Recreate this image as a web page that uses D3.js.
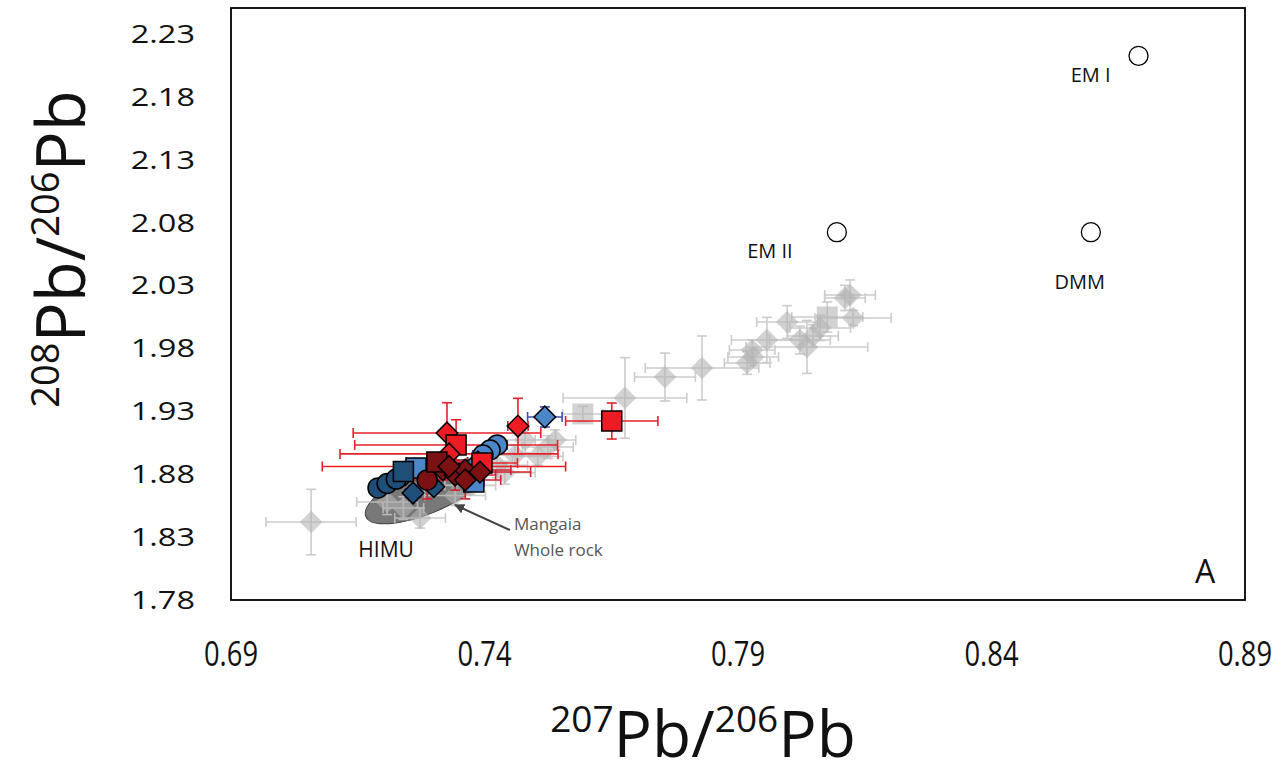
<!DOCTYPE html>
<html>
<head>
<meta charset="utf-8">
<script src="https://cdn.jsdelivr.net/npm/d3@7"></script>
<style>
  body { margin: 0; background: #fff; }
  text { font-family: "Open Sans", sans-serif; }
</style>
</head>
<body>
<div id="chart"></div>
<script>
// axis ticks
const xTicks = [0.69, 0.74, 0.79, 0.84, 0.89];
const yTicks = [1.78, 1.83, 1.88, 1.93, 1.98, 2.03, 2.08, 2.13, 2.18, 2.23];

// literature data (grey)
const greyData = [
    { x: 0.8121, y: 2.0221, xe: 0.0050, ye: 0.0120, s: "d" },
    { x: 0.8111, y: 2.0198, xe: 0.0040, ye: 0.0100, s: "d" },
    { x: 0.8127, y: 2.0039, xe: 0.0075, ye: 0.0060, s: "d" },
    { x: 0.8076, y: 2.0047, xe: 0.0070, ye: 0.0120, s: "s" },
    { x: 0.8062, y: 1.9960, xe: 0.0060, ye: 0.0100, s: "d" },
    { x: 0.8048, y: 1.9896, xe: 0.0050, ye: 0.0090, s: "d" },
    { x: 0.8036, y: 1.9809, xe: 0.0120, ye: 0.0210, s: "d" },
    { x: 0.8022, y: 1.9864, xe: 0.0060, ye: 0.0110, s: "d" },
    { x: 0.7997, y: 2.0007, xe: 0.0060, ye: 0.0130, s: "d" },
    { x: 0.7957, y: 1.9864, xe: 0.0070, ye: 0.0180, s: "d" },
    { x: 0.7928, y: 1.9785, xe: 0.0045, ye: 0.0080, s: "d" },
    { x: 0.7930, y: 1.9729, xe: 0.0050, ye: 0.0070, s: "d" },
    { x: 0.7918, y: 1.9682, xe: 0.0045, ye: 0.0090, s: "d" },
    { x: 0.7829, y: 1.9642, xe: 0.0112, ye: 0.0254, s: "d" },
    { x: 0.7756, y: 1.9570, xe: 0.0060, ye: 0.0190, s: "d" },
    { x: 0.7677, y: 1.9404, xe: 0.0122, ye: 0.0320, s: "d" },
    { x: 0.7594, y: 1.9277, xe: 0.0040, ye: 0.0060, s: "s" },
    { x: 0.7480, y: 1.9070, xe: 0.0060, ye: 0.0100, s: "d" },
    { x: 0.7525, y: 1.9015, xe: 0.0050, ye: 0.0090, s: "d" },
    { x: 0.7540, y: 1.9070, xe: 0.0040, ye: 0.0080, s: "d" },
    { x: 0.7460, y: 1.8950, xe: 0.0070, ye: 0.0080, s: "d" },
    { x: 0.7425, y: 1.8870, xe: 0.0060, ye: 0.0100, s: "d" },
    { x: 0.7505, y: 1.8940, xe: 0.0050, ye: 0.0070, s: "d" },
    { x: 0.7440, y: 1.8810, xe: 0.0060, ye: 0.0090, s: "d" },
    { x: 0.7208, y: 1.8578, xe: 0.0060, ye: 0.0100, s: "d" },
    { x: 0.7273, y: 1.8451, xe: 0.0050, ye: 0.0080, s: "d" },
    { x: 0.7240, y: 1.8530, xe: 0.0040, ye: 0.0090, s: "d" },
    { x: 0.7342, y: 1.8630, xe: 0.0060, ye: 0.0080, s: "d" },
    { x: 0.7372, y: 1.8710, xe: 0.0050, ye: 0.0070, s: "d" },
    { x: 0.7058, y: 1.8419, xe: 0.0089, ye: 0.0260, s: "d" }
];

// this study
const lightBlueData = [
    { x: 0.7519, y: 1.9253, xe: 0.0034, ye: 0.0080, s: "d" },
    { x: 0.7425, y: 1.9031, xe: 0.0020, ye: 0.0040, s: "c" },
    { x: 0.7411, y: 1.8991, xe: 0.0020, ye: 0.0040, s: "c" },
    { x: 0.7397, y: 1.8951, xe: 0.0020, ye: 0.0040, s: "c" },
    { x: 0.7387, y: 1.8896, xe: 0.0020, ye: 0.0040, s: "d" },
    { x: 0.7379, y: 1.8737, xe: 0.0020, ye: 0.0040, s: "s" },
    { x: 0.7265, y: 1.8848, xe: 0.0020, ye: 0.0040, s: "s" },
    { x: 0.7233, y: 1.8777, xe: 0.0020, ye: 0.0040, s: "c" },
    { x: 0.7350, y: 1.8800, xe: 0.0020, ye: 0.0040, s: "d" }
];

const darkBlueData = [
    { x: 0.7190, y: 1.8690, xe: 0.0015, ye: 0.0040, s: "c" },
    { x: 0.7208, y: 1.8725, xe: 0.0015, ye: 0.0040, s: "c" },
    { x: 0.7226, y: 1.8760, xe: 0.0015, ye: 0.0040, s: "c" },
    { x: 0.7259, y: 1.8649, xe: 0.0015, ye: 0.0060, s: "d" },
    { x: 0.7240, y: 1.8820, xe: 0.0015, ye: 0.0040, s: "s" },
    { x: 0.7300, y: 1.8700, xe: 0.0015, ye: 0.0040, s: "d" }
];

const redData = [
    { x: 0.7326, y: 1.9126, xe: 0.0185, ye: 0.0240, s: "d" },
    { x: 0.7344, y: 1.9031, xe: 0.0200, ye: 0.0200, s: "s" },
    { x: 0.7330, y: 1.8960, xe: 0.0215, ye: 0.0150, s: "d" },
    { x: 0.7320, y: 1.8860, xe: 0.0240, ye: 0.0100, s: "d" },
    { x: 0.7395, y: 1.8888, xe: 0.0070, ye: 0.0090, s: "s" },
    { x: 0.7466, y: 1.9181, xe: 0.0020, ye: 0.0220, s: "d" },
    { x: 0.7651, y: 1.9221, xe: 0.0091, ye: 0.0143, s: "s" }
];

const darkRedData = [
    { x: 0.7287, y: 1.8753, xe: 0.0070, ye: 0.0150, s: "c" },
    { x: 0.7318, y: 1.8832, xe: 0.0060, ye: 0.0080, s: "d" },
    { x: 0.7342, y: 1.8792, xe: 0.0080, ye: 0.0120, s: "d" },
    { x: 0.7362, y: 1.8832, xe: 0.0090, ye: 0.0060, s: "d" },
    { x: 0.7391, y: 1.8816, xe: 0.0100, ye: 0.0070, s: "d" },
    { x: 0.7306, y: 1.8895, xe: 0.0060, ye: 0.0070, s: "s" },
    { x: 0.7330, y: 1.8860, xe: 0.0050, ye: 0.0060, s: "d" },
    { x: 0.7362, y: 1.8753, xe: 0.0070, ye: 0.0150, s: "d" }
];

// mantle end-members
const endMembers = [
    { name: "EM I", x: 0.8690, y: 2.2120 },
    { name: "EM II", x: 0.8095, y: 2.0720 },
    { name: "DMM", x: 0.8596, y: 2.0720 }
];

// Mangaia whole rock field (major axis ends)
const mangaiaField = { x1: 0.7166, y1: 1.8462, x2: 0.7405, y2: 1.8860 };

let margin = { top: 8, right: 37, bottom: 182, left: 231 },
    width = 1282 - margin.left - margin.right,
    height = 782 - margin.top - margin.bottom;

const svg = d3.select("#chart")
    .append("svg")
    .attr("width", 1282)
    .attr("height", 782)
    .append("g")
    .attr("transform", `translate(${margin.left},${margin.top})`);

const x = d3.scaleLinear().domain([0.69, 0.89]).range([0, width]);
const y = d3.scaleLinear().domain([1.78, 2.25]).range([height, 0]);

// tick labels
svg.selectAll(".ytick")
    .data(yTicks)
    .enter()
    .append("text")
    .attr("transform", d => `translate(-36,${y(d)}) scale(1.25,1)`)
    .attr("dy", "0.36em")
    .attr("text-anchor", "end")
    .style("font-size", "26px")
    .style("fill", "#111")
    .text(d => d.toFixed(2));

svg.selectAll(".xtick")
    .data(xTicks)
    .enter()
    .append("text")
    .attr("transform", d => `translate(${x(d)},${height + 66}) scale(0.78,1)`)
    .attr("text-anchor", "middle")
    .style("font-size", "35px")
    .style("fill", "#111")
    .text(d => d.toFixed(2));

// Mangaia ellipse
const p1 = [x(mangaiaField.x1), y(mangaiaField.y1)],
    p2 = [x(mangaiaField.x2), y(mangaiaField.y2)];
const angle = Math.atan2(p2[1] - p1[1], p2[0] - p1[0]) * 180 / Math.PI;
svg.append("ellipse")
    .attr("cx", (p1[0] + p2[0]) / 2)
    .attr("cy", (p1[1] + p2[1]) / 2)
    .attr("rx", Math.hypot(p2[0] - p1[0], p2[1] - p1[1]) / 2)
    .attr("ry", 22)
    .attr("transform", `rotate(${angle},${(p1[0] + p2[0]) / 2},${(p1[1] + p2[1]) / 2})`)
    .attr("fill", "#787878")
    .attr("stroke", "#3c3c3c")
    .attr("stroke-width", 1);

function shapePath(s, size) {
    if (s === "c") return d3.symbol(d3.symbolCircle, size * size * Math.PI / 4)();
    if (s === "s") return d3.symbol(d3.symbolSquare, size * size)();
    return d3.symbol(d3.symbolSquare, size * size / 2)(); // rotated later
}

function drawErrors(data, color, opacity) {
    const g = svg.append("g").attr("stroke", color).attr("stroke-width", 1.6).attr("opacity", opacity);
    data.forEach(d => {
        const cx = x(d.x), cy = y(d.y);
        const xl = x(d.x - d.xe), xr = x(d.x + d.xe);
        const yt = y(d.y + d.ye), yb = y(d.y - d.ye);
        g.append("line").attr("x1", xl).attr("x2", xr).attr("y1", cy).attr("y2", cy);
        g.append("line").attr("x1", cx).attr("x2", cx).attr("y1", yt).attr("y2", yb);
        g.append("line").attr("x1", xl).attr("x2", xl).attr("y1", cy - 5).attr("y2", cy + 5);
        g.append("line").attr("x1", xr).attr("x2", xr).attr("y1", cy - 5).attr("y2", cy + 5);
        g.append("line").attr("x1", cx - 5).attr("x2", cx + 5).attr("y1", yt).attr("y2", yt);
        g.append("line").attr("x1", cx - 5).attr("x2", cx + 5).attr("y1", yb).attr("y2", yb);
    });
}

function drawMarkers(data, fill, stroke, opacity, size) {
    svg.append("g")
        .selectAll("path")
        .data(data)
        .enter()
        .append("path")
        .attr("d", d => shapePath(d.s, d.s === "d" ? size * 1.08 : size))
        .attr("transform", d => `translate(${x(d.x)},${y(d.y)})` + (d.s === "d" ? " rotate(45)" : ""))
        .attr("fill", fill)
        .attr("fill-opacity", opacity)
        .attr("stroke", stroke)
        .attr("stroke-width", stroke === "none" ? 0 : 1.5);
}

// grey literature data
drawErrors(greyData, "#c4c4c4", 0.85);
drawMarkers(greyData, "#b4b4b4", "none", 0.6, 21);

// this study: error bars first
drawErrors(lightBlueData, "#3b4fb5", 1);
drawErrors(darkBlueData, "#2f3f9a", 1);
drawErrors(redData, "#e8202a", 1);
drawErrors(darkRedData, "#d42030", 1);

drawMarkers(lightBlueData, "#4a86c8", "#000", 1, 20);
drawMarkers(darkBlueData, "#1f4e79", "#000", 1, 20);
drawMarkers(redData, "#ed1c24", "#000", 1, 20);
drawMarkers(darkRedData, "#7b1113", "#000", 1, 20);

// end-members
svg.selectAll(".em")
    .data(endMembers)
    .enter()
    .append("circle")
    .attr("cx", d => x(d.x))
    .attr("cy", d => y(d.y))
    .attr("r", 9.5)
    .attr("fill", "#fff")
    .attr("stroke", "#000")
    .attr("stroke-width", 1.3);

const emLabel = { "EM I": [-28, 26, "end"], "EM II": [-67, 26, "middle"], "DMM": [-11, 57, "middle"] };
svg.selectAll(".emlabel")
    .data(endMembers)
    .enter()
    .append("text")
    .attr("x", d => x(d.x) + emLabel[d.name][0])
    .attr("y", d => y(d.y) + emLabel[d.name][1])
    .attr("text-anchor", d => emLabel[d.name][2])
    .style("font-size", "20px")
    .style("fill", "#111")
    .text(d => d.name);

svg.append("text")
    .attr("x", x(0.7206))
    .attr("y", y(1.8145))
    .attr("text-anchor", "middle")
    .style("font-size", "21px")
    .style("fill", "#111")
    .text("HIMU");

// Mangaia arrow
svg.append("defs").append("marker")
    .attr("id", "arrow")
    .attr("viewBox", "0 0 10 10")
    .attr("refX", 9).attr("refY", 5)
    .attr("markerWidth", 5).attr("markerHeight", 5)
    .attr("orient", "auto")
    .append("path")
    .attr("d", "M0,0 L10,5 L0,10 z")
    .attr("fill", "#444");

svg.append("line")
    .attr("x1", x(0.7450)).attr("y1", y(1.8356))
    .attr("x2", x(0.7342)).attr("y2", y(1.8554))
    .attr("stroke", "#444")
    .attr("stroke-width", 2)
    .attr("marker-end", "url(#arrow)");

const mg = svg.append("text")
    .attr("x", x(0.7458))
    .attr("y", y(1.8352))
    .style("font-size", "17px")
    .style("fill", "#555");
mg.append("tspan").text("Mangaia");
mg.append("tspan").attr("x", x(0.7458)).attr("dy", 26).text("Whole rock");

// panel letter
svg.append("text")
    .attr("x", width - 40)
    .attr("y", height - 17)
    .attr("text-anchor", "middle")
    .style("font-size", "32px")
    .style("fill", "#111")
    .text("A");

// frame
svg.append("rect")
    .attr("x", 0).attr("y", 0)
    .attr("width", width).attr("height", height)
    .attr("fill", "none")
    .attr("stroke", "#000")
    .attr("stroke-width", 1.8);

// axis titles
const xt = svg.append("text")
    .attr("transform", `translate(${width / 2 - 35},${height + 157})`)
    .attr("text-anchor", "middle")
    .style("font-size", "64px")
    .style("fill", "#111");
xt.append("tspan").attr("baseline-shift", "super").style("font-size", "37px").text("207");
xt.append("tspan").text("Pb/");
xt.append("tspan").attr("baseline-shift", "super").style("font-size", "37px").text("206");
xt.append("tspan").text("Pb");

const yt = svg.append("text")
    .attr("transform", `translate(-146,${height / 2 - 55}) rotate(-90)`)
    .attr("text-anchor", "middle")
    .style("font-size", "67px")
    .style("fill", "#111");
yt.append("tspan").attr("baseline-shift", "super").style("font-size", "38px").text("208");
yt.append("tspan").text("Pb/");
yt.append("tspan").attr("baseline-shift", "super").style("font-size", "38px").text("206");
yt.append("tspan").text("Pb");
</script>
</body>
</html>
